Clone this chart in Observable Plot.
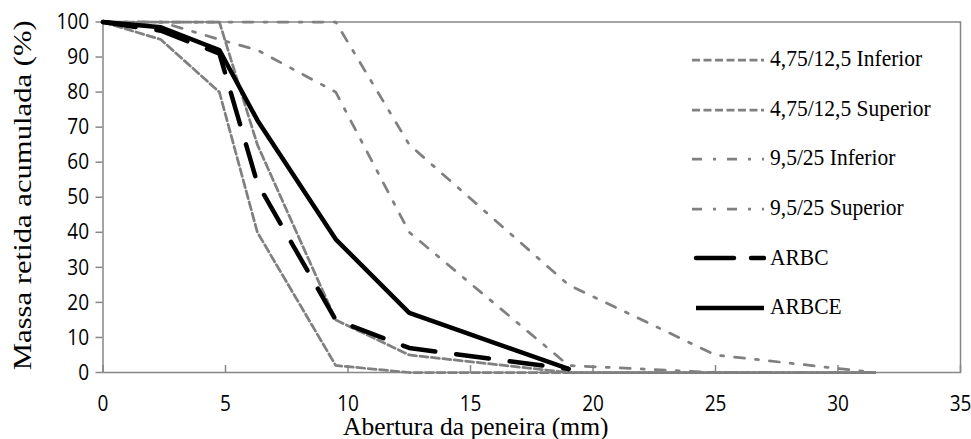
<!DOCTYPE html>
<html>
<head>
<meta charset="utf-8">
<script src="https://cdn.jsdelivr.net/npm/d3@7"></script>
<script src="https://cdn.jsdelivr.net/npm/@observablehq/plot@0.6"></script>
<style>
  body { margin: 0; background: #fff; }
  #wrap { position: relative; width: 971px; height: 439px; overflow: hidden; background: #fff; }
  .row { position: absolute; left: 690px; height: 30px; display: flex; align-items: center; }
  .row svg { display: block; }
  .row span { font-family: "Liberation Serif", "Times New Roman", serif; font-size: 21.5px; color: #000;
              display: inline-block; transform: scaleY(1.06); margin-left: 4px; white-space: nowrap; line-height: 1; }
</style>
</head>
<body>
<div id="wrap"></div>
<script>
// ---- data ----
const sieves = [0, 2.36, 4.75, 6.3, 9.5, 12.5, 19, 25, 31.5];
const inf475 = [100, 95, 80, 40, 2, 0, 0, 0, 0];
const sup475 = [100, 100, 100, 65, 15, 5, 0, 0, 0];
const inf95  = [100, 100, 95, 92, 80, 40, 2, 0, 0];
const sup95  = [100, 100, 100, 100, 100, 65, 25, 5, 0];
const sampleSieves = [0, 2.36, 4.75, 6.3, 9.5, 12.5, 19];
const arbc  = [100, 97.5, 91, 54, 15, 7, 1];
const arbce = [100, 98.5, 92, 72, 38, 17, 1];
const seriesNames = ["4,75/12,5 Inferior", "4,75/12,5 Superior", "9,5/25 Inferior", "9,5/25 Superior", "ARBC", "ARBCE"];
const xTicks = [0, 5, 10, 15, 20, 25, 30, 35];
const yTicks = [0, 10, 20, 30, 40, 50, 60, 70, 80, 90, 100];
const xTitle = "Abertura da peneira (mm)";
const yTitle = "Massa retida acumulada (%)";

// ---- styles ----
const gray = "#808080";
const styles = [
  {stroke: gray, strokeWidth: 2.75, strokeDasharray: "8,3.5"},
  {stroke: gray, strokeWidth: 2.75, strokeDasharray: "8,3.5"},
  {stroke: gray, strokeWidth: 2.75, strokeDasharray: "10,11,3,11"},
  {stroke: gray, strokeWidth: 2.75, strokeDasharray: "10,11,3,11"},
  {stroke: "#000", strokeWidth: 4.5, strokeDasharray: "33,21", strokeLinecap: "round"},
  {stroke: "#000", strokeWidth: 4.5, strokeLinejoin: "round"}
];
const seriesX = [sieves, sieves, sieves, sieves, sampleSieves, sampleSieves];
const seriesY = [inf475, sup475, inf95, sup95, arbc, arbce];
const rows = (k) => seriesX[k].map((x, i) => ({serie: seriesNames[k], x, y: seriesY[k][i]}));

const axisFont = {fontFamily: "'Open Sans', sans-serif", fontSize: 19};
const serif = "'Liberation Serif', 'Times New Roman', serif";
const plot = Plot.plot({
  width: 971,
  height: 439,
  marginLeft: 102.5,
  marginRight: 11,
  marginTop: 21.5,
  marginBottom: 67,
  style: {background: "white", color: "black", overflow: "visible"},
  x: {domain: [0, 35]},
  y: {domain: [0, 100]},
  marks: [
    Plot.frame({stroke: "#868686", strokeWidth: 1.5}),
    Plot.axisY({ticks: yTicks, tickSize: 7, tickPadding: 7, stroke: "#868686", strokeWidth: 1.5, fill: "black", label: null, ...axisFont}),
    Plot.axisX({ticks: xTicks, tickSize: -7, tickPadding: 30, stroke: "#868686", strokeWidth: 1.5, fill: "black", label: null, ...axisFont}),
    ...seriesNames.map((n, k) => Plot.line(rows(k), {x: "x", y: "y", ...styles[k]})),
    Plot.text([xTitle], {frameAnchor: "bottom", text: d => d, dy: 54, dx: -56, lineAnchor: "middle", textAnchor: "middle",
      fontFamily: serif, fontSize: 25.5, fill: "black"}),
    Plot.text([yTitle], {frameAnchor: "left", text: d => d, dx: -80, dy: -2, rotate: -90, lineAnchor: "middle", textAnchor: "middle",
      fontFamily: serif, fontSize: 26, fill: "black"})
  ]
});

// stretch texts vertically like the reference (tick labels and the y title; not the x title)
plot.querySelectorAll("text").forEach(t => {
  if (t.textContent === xTitle) return;
  let tr = t.getAttribute("transform");
  if (!tr) {
    const x = t.getAttribute("x") || 0, y = t.getAttribute("y") || 0;
    if (t.hasAttribute("x") || t.hasAttribute("y")) {
      t.removeAttribute("x"); t.removeAttribute("y");
      tr = `translate(${x},${y})`;
    } else tr = "";
  }
  t.setAttribute("transform", tr + (tr.includes("rotate") ? " scale(1.18,1)" : " scale(1,1.18)"));
});

const wrap = document.getElementById("wrap");
wrap.appendChild(plot);

// legend overlay
seriesNames.forEach((n, k) => {
  const row = document.createElement("div");
  row.className = "row";
  row.style.top = (60 + k * 49.6 - 15) + "px";
  const s = styles[k];
  const ns = "http://www.w3.org/2000/svg";
  const svg = document.createElementNS(ns, "svg");
  svg.setAttribute("width", 76); svg.setAttribute("height", 10);
  const ln = document.createElementNS(ns, "line");
  ln.setAttribute("x1", k >= 4 ? 6 : 2); ln.setAttribute("x2", 74);
  ln.setAttribute("y1", 5); ln.setAttribute("y2", 5);
  ln.setAttribute("stroke", s.stroke);
  ln.setAttribute("stroke-width", s.strokeWidth);
  if (s.strokeDasharray) ln.setAttribute("stroke-dasharray", k === 4 ? "38,17" : s.strokeDasharray);
  if (s.strokeLinecap) ln.setAttribute("stroke-linecap", s.strokeLinecap);
  svg.appendChild(ln);
  const sp = document.createElement("span");
  sp.textContent = n;
  row.appendChild(svg); row.appendChild(sp);
  wrap.appendChild(row);
});
</script>
</body>
</html>
